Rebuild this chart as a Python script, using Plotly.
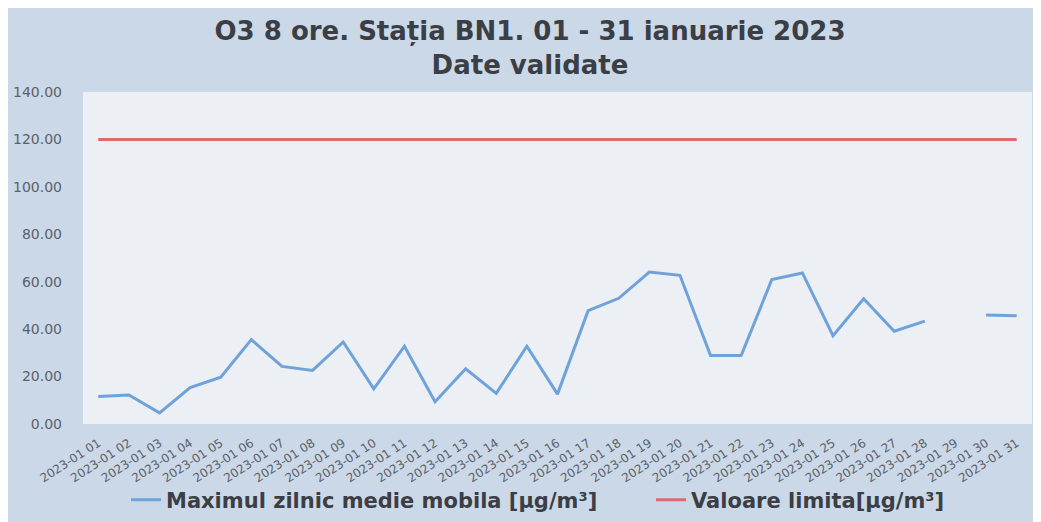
import plotly.graph_objects as go

days = [f"2023-01 {d:02d}" for d in range(1, 32)]

o3_max_8h = [
    11.6, 12.2, 4.7, 15.4, 19.7, 35.6, 24.3, 22.6, 34.6, 14.8,
    32.8, 9.4, 23.3, 12.9, 32.8, 12.6, 47.8, 53.0, 64.1, 62.7,
    28.9, 28.9, 60.9, 63.7, 37.2, 52.8, 39.1, 43.4, None, 46.0,
    45.7,
]
limit_value = [120.0] * len(days)

y_ticks = [0, 20, 40, 60, 80, 100, 120, 140]

# the page body adds an 8px white border top/left, like the scan
PLOT_W = 1041 - 75 - 17
PLOT_H = 522 - 84 - 106

legend_font = {"size": 21, "color": "#3b3f45", "family": "DejaVu Sans, sans-serif", "weight": "bold"}

fig = go.Figure()
fig.add_trace(
    go.Scatter(
        x=days,
        y=o3_max_8h,
        mode="lines",
        name="Maximul zilnic medie mobila [µg/m³]",
        line={"width": 3, "color": "#70a2da"},
        connectgaps=False,
        legend="legend",
    )
)
fig.add_trace(
    go.Scatter(
        x=days,
        y=limit_value,
        mode="lines",
        name="Valoare limita[µg/m³]",
        line={"width": 3, "color": "#db6b6d"},
        legend="legend2",
    )
)

fig.update_layout(
    width=1041,
    height=522,
    margin={"l": 75, "r": 17, "t": 84, "b": 106, "autoexpand": False},
    paper_bgcolor="#cbd8e7",
    plot_bgcolor="#eceff3",
    font={"family": "DejaVu Sans, sans-serif", "color": "#5c6168"},
    title={
        "text": "O3 8 ore. Stația BN1. 01 - 31 ianuarie 2023<br>Date validate",
        "x": 522 / 1041,
        "xanchor": "center",
        "y": 0.938,
        "yanchor": "middle",
        "font": {"size": 26, "color": "#3b3f45", "family": "DejaVu Sans, sans-serif", "weight": "bold"},
    },
    xaxis={
        "type": "category",
        "range": [-0.5, 30.5],
        "tickangle": -33,
        "tickfont": {"size": 12},
        "showgrid": False,
        "showline": False,
        "zeroline": False,
        "ticks": "",
        "ticklabelstandoff": 9,
        "automargin": False,
    },
    yaxis={
        "range": [0, 140],
        "tickvals": y_ticks,
        "tickformat": ".2f",
        "tickfont": {"size": 14},
        "showgrid": False,
        "zeroline": False,
        "showline": False,
        "ticklabelstandoff": 20,
        "automargin": False,
    },
    showlegend=True,
    legend={
        "orientation": "h",
        "x": (118 - 75) / PLOT_W,
        "xanchor": "left",
        "y": -76 / PLOT_H,
        "yanchor": "middle",
        "bgcolor": "rgba(0,0,0,0)",
        "font": legend_font,
        "itemwidth": 30,
    },
    legend2={
        "orientation": "h",
        "x": (643 - 75) / PLOT_W,
        "xanchor": "left",
        "y": -76 / PLOT_H,
        "yanchor": "middle",
        "bgcolor": "rgba(0,0,0,0)",
        "font": legend_font,
        "itemwidth": 30,
    },
)

fig.write_html("out.html")
